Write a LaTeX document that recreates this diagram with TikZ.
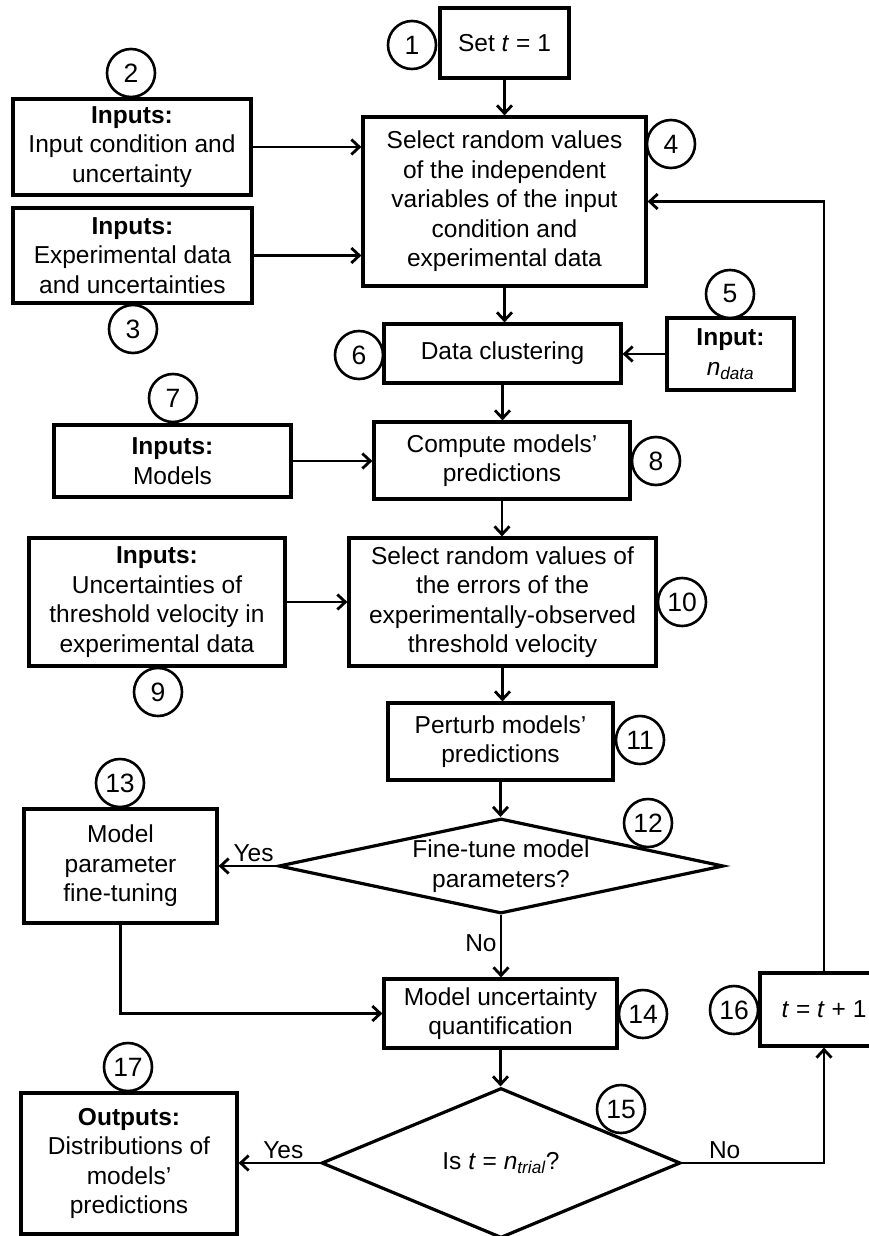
\documentclass[tikz,border=0pt]{standalone}
\usepackage{fontspec}
\setmainfont{Liberation Sans}
\usetikzlibrary{arrows.meta,shapes.geometric}
\begin{document}
\begin{tikzpicture}[x=1pt,y=-1pt,
  every node/.style={font=\fontsize{24.5}{29.5}\selectfont},
  stepbox/.style={draw, line width=3.2pt, align=center, inner sep=0pt, fill=white},
  decision/.style={draw, diamond, line width=3.2pt, align=center, inner sep=0pt, fill=white},
  tag/.style={draw, circle, line width=2.6pt, fill=white, minimum size=48pt,
              inner sep=0pt, font=\fontsize{26.5}{30}\selectfont},
  arr/.style={line width=2.8pt, -{Straight Barb[length=8pt,width=15pt,line width=2.8pt]}},
  lbl/.style={inner sep=3pt}
]
\useasboundingbox (0,0) rectangle (869,1236);
\clip (0,0) rectangle (869,1236);

% process boxes
\node[stepbox, minimum width=129pt, minimum height=70pt] (n1) at (504.5,43) {Set \textit{t} = 1};
\node[stepbox, minimum width=238pt, minimum height=96pt] (n2) at (132,147)
  {\textbf{Inputs:}\\Input condition and\\uncertainty};
\node[stepbox, minimum width=239pt, minimum height=95pt] (n3) at (132.5,255.5)
  {\textbf{Inputs:}\\Experimental data\\and uncertainties};
\node[stepbox, minimum width=283pt, minimum height=169pt] (n4) at (504.5,201.5)
  {Select random values\\of the independent\\variables of the input\\condition and\\experimental data};
\node[stepbox, minimum width=127pt, minimum height=72pt] (n5) at (730.5,354)
  {\textbf{Input:}\\\textit{n}\textsubscript{\textit{data}}};
\node[stepbox, minimum width=237pt, minimum height=59pt] (n6) at (502.5,353.5) {Data clustering};
\node[stepbox, minimum width=237pt, minimum height=72pt] (n7) at (172.5,461)
  {\textbf{Inputs:}\\Models};
\node[stepbox, minimum width=256pt, minimum height=77pt] (n8) at (502,460.5)
  {Compute models'\\predictions};
\node[stepbox, minimum width=256pt, minimum height=128pt] (n9) at (157,602)
  {\textbf{Inputs:}\\Uncertainties of\\threshold velocity in\\experimental data};
\node[stepbox, minimum width=307pt, minimum height=128pt] (n10) at (502.5,602)
  {Select random values of\\the errors of the\\experimentally-observed\\threshold velocity};
\node[stepbox, minimum width=225pt, minimum height=77pt] (n11) at (500.5,741.5)
  {Perturb models'\\predictions};
\node[decision, aspect=4.68, minimum width=445pt, minimum height=95pt] (n12) at (501,866)
  {Fine-tune model\\parameters?};
\node[stepbox, minimum width=193pt, minimum height=114pt] (n13) at (120.5,866)
  {Model\\parameter\\fine-tuning};
\node[stepbox, minimum width=233pt, minimum height=69pt] (n14) at (500.5,1013.5)
  {Model uncertainty\\quantification};
\node[decision, aspect=2.4, minimum width=359pt, minimum height=150pt] (n15) at (501,1163)
  {Is \textit{t} = \textit{n}\textsubscript{\textit{trial}}?};
\node[stepbox, minimum width=128pt, minimum height=73pt] (n16) at (824,1009.5)
  {\textit{t} = \textit{t} + 1};
\node[stepbox, minimum width=216pt, minimum height=141pt] (n17) at (129,1163.5)
  {\textbf{Outputs:}\\Distributions of\\models'\\predictions};

% connectors
\draw[arr] (n1.south) -- (n1.south |- n4.north);
\draw[arr] (n2.east) -- (n2.east -| n4.west);
\draw[arr] (n3.east) -- (n3.east -| n4.west);
\draw[arr] (n4.south) -- (n4.south |- n6.north);
\draw[arr] (n5.west) -- (n5.west -| n6.east);
\draw[arr] (n6.south) -- (n6.south |- n8.north);
\draw[arr] (n7.east) -- (n7.east -| n8.west);
\draw[arr] (n8.south) -- (n8.south |- n10.north);
\draw[arr] (n9.east) -- (n9.east -| n10.west);
\draw[arr] (n10.south) -- (n10.south |- n11.north);
\draw[arr] (n11.south) -- (n11.south |- n12.north);
\draw[arr] (n12.west) -- node[lbl, above, pos=0.4] (yes1) {Yes} (n12.west -| n13.east);
\draw[arr] (n12.south) -- node[lbl, left, pos=0.45] (no1) {No} (n12.south |- n14.north);
\draw[arr] (n13.south) |- (n14.west);
\draw[arr] (n14.south) -- (n14.south |- n15.north);
\draw[arr] (n15.west) -- node[lbl, above, pos=0.45] (yes2) {Yes} (n15.west -| n17.east);
\draw[arr] (n15.east) -- node[lbl, above, pos=0.3] (no2) {No} (n15.east -| n16.south) -- (n16.south);
\draw[arr] (n16.north) |- (n4.east);

% step numbers
\node[tag] (c1) at (412,45) {1};
\node[tag] (c2) at (131,73) {2};
\node[tag] (c3) at (133,329) {3};
\node[tag] (c4) at (671,144) {4};
\node[tag] (c5) at (730,294) {5};
\node[tag] (c6) at (359,355) {6};
\node[tag] (c7) at (173,398) {7};
\node[tag] (c8) at (656,461) {8};
\node[tag] (c9) at (158,692) {9};
\node[tag] (c10) at (682,602) {10};
\node[tag] (c11) at (640,740) {11};
\node[tag] (c12) at (648,823) {12};
\node[tag] (c13) at (120,783) {13};
\node[tag] (c14) at (643,1014) {14};
\node[tag] (c15) at (621,1109) {15};
\node[tag] (c16) at (734,1010) {16};
\node[tag] (c17) at (128,1067) {17};
\end{tikzpicture}
\end{document}
